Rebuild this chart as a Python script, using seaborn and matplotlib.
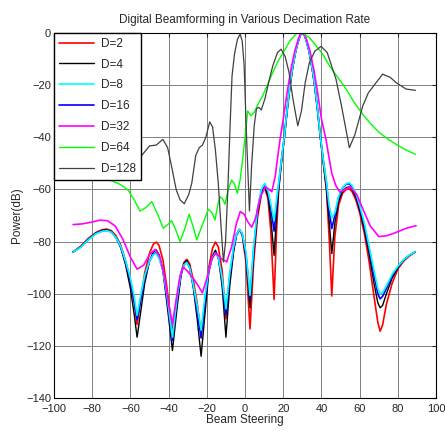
import matplotlib
matplotlib.use('Agg')
import matplotlib.pyplot as plt
import seaborn as sns

# beam steering angles for D=2/4/8/16 (shared grid)
x_main = [-90, -86, -82, -78, -75, -72.5, -70, -67.5, -65, -62.5,
          -60, -58, -56.5, -55, -52.5, -50, -48, -46.5, -45, -43,
          -41, -38, -35.5, -33.5, -32, -30.5, -29, -27, -25, -23,
          -21, -19, -17, -15.5, -14, -12, -10, -8, -6, -4.5,
          -3, -1.5, 0.5, 2.6, 4.5, 6.5, 8.5, 10.3, 12, 13.5,
          15.2, 16.5, 17.6, 19, 20.6, 22, 23.6, 25, 26.5, 28,
          29, 30, 31, 32, 33.5, 35, 36.4, 38, 39.4, 41,
          42.6, 44, 45.4, 47, 49, 51, 53, 54.5, 56, 58,
          60, 62.5, 65, 67.5, 69.5, 70.7, 72, 74, 77, 80,
          83, 86, 89]

d2 = [-84, -81.8, -78.8, -76.5, -75.5, -75.2, -75.8, -77.8, -81.5, -87.5,
      -95, -103, -111.8, -104, -92, -84.5, -81, -80.2, -81.5, -87,
      -97, -114.7, -102, -92, -88, -86.8, -88.5, -95, -104, -115.4,
      -103, -90, -82.5, -80.2, -82, -91, -109.6, -94, -83, -77.5,
      -75.4, -77.5, -88, -113.5, -88, -71, -62, -59.4, -63.5, -76,
      -102.2, -76, -60, -50, -40, -30, -20, -13, -7, -2.8,
      -0.7, 0, -0.7, -2.8, -7, -13, -20, -30, -40, -50,
      -60, -78, -100.9, -78, -66, -61.5, -60, -59.8, -60.8, -64,
      -69, -77, -88, -101, -111, -114.4, -112, -104, -96, -90.5,
      -87.5, -85.5, -84]

d4 = [-84, -82, -79, -76.8, -75.8, -75.5, -76.2, -78.5, -82.5, -89,
      -98, -108, -116.7, -109, -96, -87.5, -84, -83.2, -85, -91,
      -103, -121.8, -105, -93, -88.5, -87.2, -89.5, -98, -110, -124,
      -108, -92, -85.5, -83.3, -86, -97, -116.7, -97, -84, -77.5,
      -75.4, -77, -86, -105.4, -85, -69.5, -61.5, -59, -62.5, -71,
      -85.3, -70, -60, -50, -40, -30, -20, -13, -7, -2.8,
      -0.7, 0, -0.7, -2.8, -7, -13, -20, -30, -40, -50,
      -60, -72, -84.6, -73, -64.5, -60.8, -59.3, -59, -60, -63,
      -68, -75.5, -85, -96, -103.5, -105.4, -104.5, -100, -94, -90,
      -87.2, -85.3, -84]

d8 = [-84, -82.2, -79.3, -77, -76.1, -75.8, -76.4, -78.5, -82, -87.5,
      -94, -101, -108.3, -102, -93, -87.5, -85, -84.6, -86.5, -91,
      -100, -116.7, -101, -92, -89, -88, -90, -97, -105, -114,
      -101, -91, -86, -84.4, -86, -94, -105.8, -92, -82, -77.2,
      -75.4, -76.8, -84, -100.6, -82, -67.5, -60, -57.7, -60.5, -65.5,
      -72, -64, -57.5, -49, -39.5, -29.5, -19.5, -12.8, -6.9, -2.7,
      -0.7, 0, -0.7, -2.7, -6.9, -12.8, -19.5, -29.5, -39.5, -49,
      -57, -66, -71, -69, -62.5, -59.3, -57.8, -57.4, -58.5, -61.5,
      -66, -73, -82, -91, -98, -100, -99.5, -97, -92.5, -89.5,
      -87, -85.2, -84]

d16 = [-84, -82.1, -79.2, -76.9, -76, -75.7, -76.3, -78.5, -82.2, -88,
       -95, -103, -110, -104, -94, -87.5, -84.8, -84.3, -86, -91,
       -101, -118, -102, -92.5, -89, -88, -90, -97.5, -107, -117,
       -103, -91, -85.8, -84.2, -86, -95, -108, -93, -83, -77.3,
       -75.4, -77, -85, -102, -83, -68, -60.5, -58, -61, -67,
       -76, -66, -58, -49, -39.5, -29.5, -19.5, -12.8, -6.9, -2.7,
       -0.7, 0, -0.7, -2.7, -6.9, -12.8, -19.5, -29.5, -39.5, -49,
       -57.5, -68, -75, -70, -63, -59.5, -58, -57.8, -59, -62,
       -67, -74, -83, -93, -100, -102, -101, -98, -93, -89.7,
       -87, -85.3, -84]

x_d32 = [-90, -85, -80, -76, -72, -68, -64, -60, -56.5, -53, -50, -47, -44.5, -42, -40, -38, -36, -34, -32.3, -30,
         -27, -24.5, -22.3, -20, -17.5, -15.4, -12.5, -9.6, -7, -4.5, -2.5, -0.5, 1.5, 3.5, 5.5, 8, 10.5, 12.3, 14,
         15.8, 17, 18.3, 20, 22, 24, 26, 28, 29, 30, 31, 32, 34, 36, 38, 40, 42.4, 44, 45.4, 47.5, 49.7, 52.5, 55, 58.5,
         61.9, 65.5, 70, 74, 78, 84, 89.5]
d32 = [-73.5, -73.2, -72.5, -71.8, -72, -74, -79, -86, -90.6, -89, -85, -83, -86, -94, -104, -111.5, -102, -93, -89.7, -91.5,
       -94.2, -97, -99.7, -94, -87, -84.4, -86.5, -87.8, -82, -73, -68.5, -69.5, -72.5, -74.5, -71, -63, -59, -59.8, -60.9,
       -55, -48, -41, -33, -23, -14, -7, -2, -0.5, 0, -0.5, -2, -7, -14, -23, -33, -41, -48, -53.8, -58.5, -61.1, -60, -58.9, -62,
       -67.9, -74, -78.1, -77.8, -76.8, -75, -73.9]

x_d64 = [-90, -85, -80, -76, -72.4, -69, -66.3, -63.5, -61, -58, -55, -52, -48.8, -45.5, -42.8, -40.5, -38.4, -36, -34,
         -31.5, -29.3, -27.3, -25.3, -22, -19.2, -17.3, -15.7, -14.3, -13.1, -11.8, -10.5, -8.8, -7, -5.5, -4, -2.5,
         -1.2, 0.3, 1.4, 3.1, 4.9, 7, 9.2, 12, 14.5, 17.5, 20.6, 23.5, 26.7, 29, 31, 34, 37.2, 41, 44.2, 48.5, 52.9,
         57, 61.6, 66, 70.3, 75, 79, 84, 89.2]
d64 = [-48, -50, -52, -54, -55.7, -57, -57.7, -59, -60.5, -64, -68.3, -67, -64.7, -70, -74.9, -73.5, -72, -76, -80,
       -75, -69.5, -74, -79.4, -73, -67.6, -69, -71.7, -66, -62.8, -63.5, -65.7, -60, -56.4, -58, -61.5, -56,
       -48, -38, -29.9, -31.8, -30.3, -27, -24.1, -19.5, -15.1, -10.5, -6.8, -3, -0.3, 0, -0.4, -2, -4.9, -8.5, -12.6, -17, -21.5,
       -26.5, -31.2, -35, -38.2, -40.8, -42.7, -44.8, -46.5]

x_d128 = [-90, -80, -70, -62, -57, -53, -50, -46.5, -43, -40.5, -38.5, -36, -34, -31.8, -29.5, -27.9, -25.8, -24, -22.3,
          -20.5, -18.5, -17, -15.5, -14, -12.5, -11.3, -10.2, -9, -7.8, -6.8, -5.5, -4, -2.6, -1.5, -0.5, 0.8, 2.3, 3.5,
          4.8, 6, 7.2, 8.5, 10.5, 12.5, 14.5, 17, 18.9, 21, 23, 25, 27.6, 29.5, 31.5, 33.7, 36.5, 39.8, 43, 47.6, 50.5,
          54.6, 57.5, 61.6, 64.5, 68, 72, 76, 79, 84.3, 89.2]
d128 = [-50, -49, -50, -51, -49.5, -46, -43.3, -43, -40.8, -44, -51, -60.2, -64, -65.5, -62, -57.7, -47, -44, -43,
        -40, -34.1, -36, -45, -57.7, -75, -87.8, -80, -60, -35, -16.4, -8, -2.5, -0.4, -3, -12, -40, -68.3, -50,
        -35.6, -29, -28.5, -29.5, -25, -18.5, -12.6, -7.5, -6.2, -9, -15, -25, -35.6, -30, -19, -11.3, -7, -5.1, -7.5, -17.7, -28,
        -44, -39, -28, -23, -19.6, -15.8, -17, -19, -21.5, -22]

x_ticks = list(range(-100, 101, 20))
y_ticks = list(range(-140, 1, 20))

sns.set_style('white')
plt.rcParams['font.family'] = ['Liberation Sans', 'DejaVu Sans']

fig = plt.figure(figsize=(4.45, 4.36), dpi=100)
ax = fig.add_axes([0.1213, 0.0872, 0.8587, 0.8371])

series = [
    (x_main, d2, 'D=2', '#ff0000', 1.2, 2.0),
    (x_main, d4, 'D=4', '#000000', 1.0, 2.1),
    (x_main, d8, 'D=8', '#00ffff', 1.2, 2.3),
    (x_main, d16, 'D=16', '#0000ff', 1.2, 2.2),
    (x_d32, d32, 'D=32', '#ff00ff', 1.2, 2.4),
    (x_d64, d64, 'D=64', '#00ff00', 1.0, 2.5),
    (x_d128, d128, 'D=128', '#404040', 0.9, 2.6),
]
for xs, ys, lab, col, lw, z in series:
    sns.lineplot(x=xs, y=ys, ax=ax, color=col, linewidth=lw, label=lab, zorder=z, estimator=None)

ax.set_xlim(-100, 100)
ax.set_ylim(-140, 0)
ax.set_xticks(x_ticks)
ax.set_yticks(y_ticks)
ax.grid(True, color='#808080', linewidth=0.7)
ax.tick_params(direction='in', top=True, right=True, labelsize=8, length=3)
ax.tick_params(axis='x', pad=4)
ax.tick_params(axis='y', pad=2)
for s in ax.spines.values():
    s.set_color('black')
    s.set_linewidth(0.8)

ax.set_title('Digital Beamforming in Various Decimation Rate', fontsize=8.5, pad=7)
ax.set_xlabel('Beam Steering', fontsize=8.5, labelpad=0)
ax.set_ylabel('Power(dB)', fontsize=8.5, labelpad=2)

leg = ax.legend(loc='upper left', borderaxespad=0, fontsize=8.5, handlelength=3.0, labelspacing=0.75,
                fancybox=False, framealpha=1, edgecolor='black', borderpad=0.4, handletextpad=0.6)
leg.get_frame().set_linewidth(1.0)

fig.savefig('out.png', dpi=100)
